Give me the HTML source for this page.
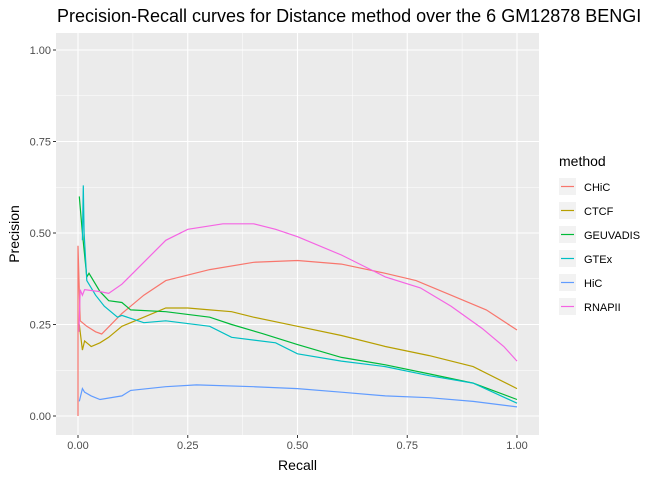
<!DOCTYPE html>
<html><head><meta charset="utf-8"><style>
body{margin:0;background:#fff;font-family:"Liberation Sans",sans-serif}
</style></head><body>
<svg id="chart" width="672" height="480" xmlns="http://www.w3.org/2000/svg" font-family="Liberation Sans, sans-serif">
<text x="57" y="22" font-size="18" fill="#000">Precision-Recall curves for Distance method over the 6 GM12878 BENGI</text>
<rect x="56" y="33" width="483" height="402" fill="#ebebeb"/>
<g id="grid"></g><g id="series"></g><g id="axes"></g>
<text x="297.5" y="470" font-size="14" text-anchor="middle">Recall</text>
<text transform="translate(19,234) rotate(-90)" font-size="14" text-anchor="middle">Precision</text>
<g id="legend">
<text x="559" y="166" font-size="14">method</text>
</g>
</svg>
<script>
const categories=["CHiC","CTCF","GEUVADIS","GTEx","HiC","RNAPII"];
const colors=["#F8766D","#B79F00","#00BA38","#00BFC4","#619CFF","#F564E3"];
const chicR=[0,0,0.005,0.02,0.04,0.054,0.1,0.15,0.2,0.3,0.4,0.5,0.6,0.7,0.77,0.85,0.93,1];
const chicP=[0,0.465,0.26,0.245,0.23,0.224,0.28,0.33,0.37,0.40,0.42,0.425,0.415,0.39,0.37,0.33,0.29,0.235];
const ctcfR=[0.003,0.01,0.015,0.02,0.03,0.05,0.07,0.1,0.15,0.2,0.25,0.3,0.35,0.4,0.5,0.6,0.7,0.8,0.9,1];
const ctcfP=[0.25,0.18,0.205,0.2,0.19,0.2,0.215,0.245,0.27,0.295,0.295,0.29,0.285,0.27,0.245,0.22,0.19,0.165,0.135,0.075];
const geuvR=[0.003,0.01,0.02,0.025,0.05,0.07,0.1,0.12,0.2,0.3,0.35,0.42,0.5,0.6,0.7,0.8,0.9,1];
const geuvP=[0.6,0.5,0.38,0.39,0.34,0.315,0.31,0.29,0.285,0.27,0.25,0.225,0.195,0.16,0.14,0.115,0.09,0.045];
const gtexR=[0.01,0.012,0.014,0.02,0.04,0.06,0.09,0.1,0.15,0.2,0.3,0.35,0.45,0.5,0.6,0.7,0.8,0.9,1];
const gtexP=[0.48,0.63,0.5,0.37,0.33,0.3,0.27,0.275,0.255,0.26,0.245,0.215,0.2,0.17,0.15,0.135,0.11,0.09,0.035];
const hicR=[0.003,0.01,0.015,0.03,0.05,0.1,0.12,0.2,0.27,0.4,0.5,0.6,0.7,0.8,0.9,1];
const hicP=[0.04,0.075,0.065,0.055,0.045,0.055,0.07,0.08,0.085,0.08,0.075,0.065,0.055,0.05,0.04,0.025];
const rnaR=[0.002,0.005,0.01,0.015,0.05,0.07,0.1,0.15,0.2,0.25,0.33,0.4,0.45,0.5,0.6,0.7,0.78,0.85,0.92,0.97,1];
const rnaP=[0.23,0.345,0.33,0.345,0.34,0.335,0.36,0.42,0.48,0.51,0.525,0.525,0.51,0.49,0.44,0.38,0.35,0.3,0.24,0.19,0.15];
const ticks=[0,0.25,0.5,0.75,1];
const tickLabels=["0.00","0.25","0.50","0.75","1.00"];
const NS="http://www.w3.org/2000/svg";
const xs=v=>78+v*439, ys=v=>416-v*366;
function mk(t,a,p){const e=document.createElementNS(NS,t);for(const k in a)e.setAttribute(k,a[k]);document.getElementById(p).appendChild(e);return e;}
// minor grid
for(let i=0;i<4;i++){const m=(ticks[i]+ticks[i+1])/2;
 let l=mk("line",{x1:56,x2:539,y1:ys(m),y2:ys(m),stroke:"#fff","stroke-width":0.5},"grid");
 
 
 l=mk("line",{y1:33,y2:435,x1:xs(m),x2:xs(m),stroke:"#fff","stroke-width":0.5},"grid");
 
 }
ticks.forEach((t,i)=>{
 let l=mk("line",{x1:56,x2:539,y1:ys(t),y2:ys(t),stroke:"#fff","stroke-width":1.1},"grid");
 
 
 l=mk("line",{y1:33,y2:435,x1:xs(t),x2:xs(t),stroke:"#fff","stroke-width":1.1},"grid");
 
 
 let tk=mk("line",{x1:53,x2:56,y1:ys(t),y2:ys(t),stroke:"#333"},"axes");
 
 
 tk=mk("line",{y1:435,y2:438,x1:xs(t),x2:xs(t),stroke:"#333"},"axes");
 
 
 let tx=mk("text",{x:51,y:ys(t)+4,"font-size":11,fill:"#4d4d4d","text-anchor":"end"},"axes");tx.textContent=tickLabels[i];
 
 
 tx=mk("text",{x:xs(t),y:449,"font-size":11,fill:"#4d4d4d","text-anchor":"middle"},"axes");tx.textContent=tickLabels[i];
 
 
});
const R=[chicR,ctcfR,geuvR,gtexR,hicR,rnaR],P=[chicP,ctcfP,geuvP,gtexP,hicP,rnaP];
categories.forEach((c,i)=>{
 const d=R[i].map((r,j)=>(j?"L":"M")+xs(r).toFixed(1)+","+ys(P[i][j]).toFixed(1)).join("");
 const p=mk("path",{d:d,fill:"none",stroke:colors[i],"stroke-width":1.2},"series");
 
 
 const y=178+i*24;
 const b=mk("rect",{x:559,y:y,width:17,height:17,fill:"#f2f2f2"},"legend");
 
 
 const l=mk("line",{x1:561,x2:574,y1:y+8.5,y2:y+8.5,stroke:colors[i],"stroke-width":1.2},"legend");
 
 
 const t=mk("text",{x:584,y:y+13,"font-size":11,fill:"#000"},"legend");t.textContent=c;
 
 
});
</script>
</body></html>
